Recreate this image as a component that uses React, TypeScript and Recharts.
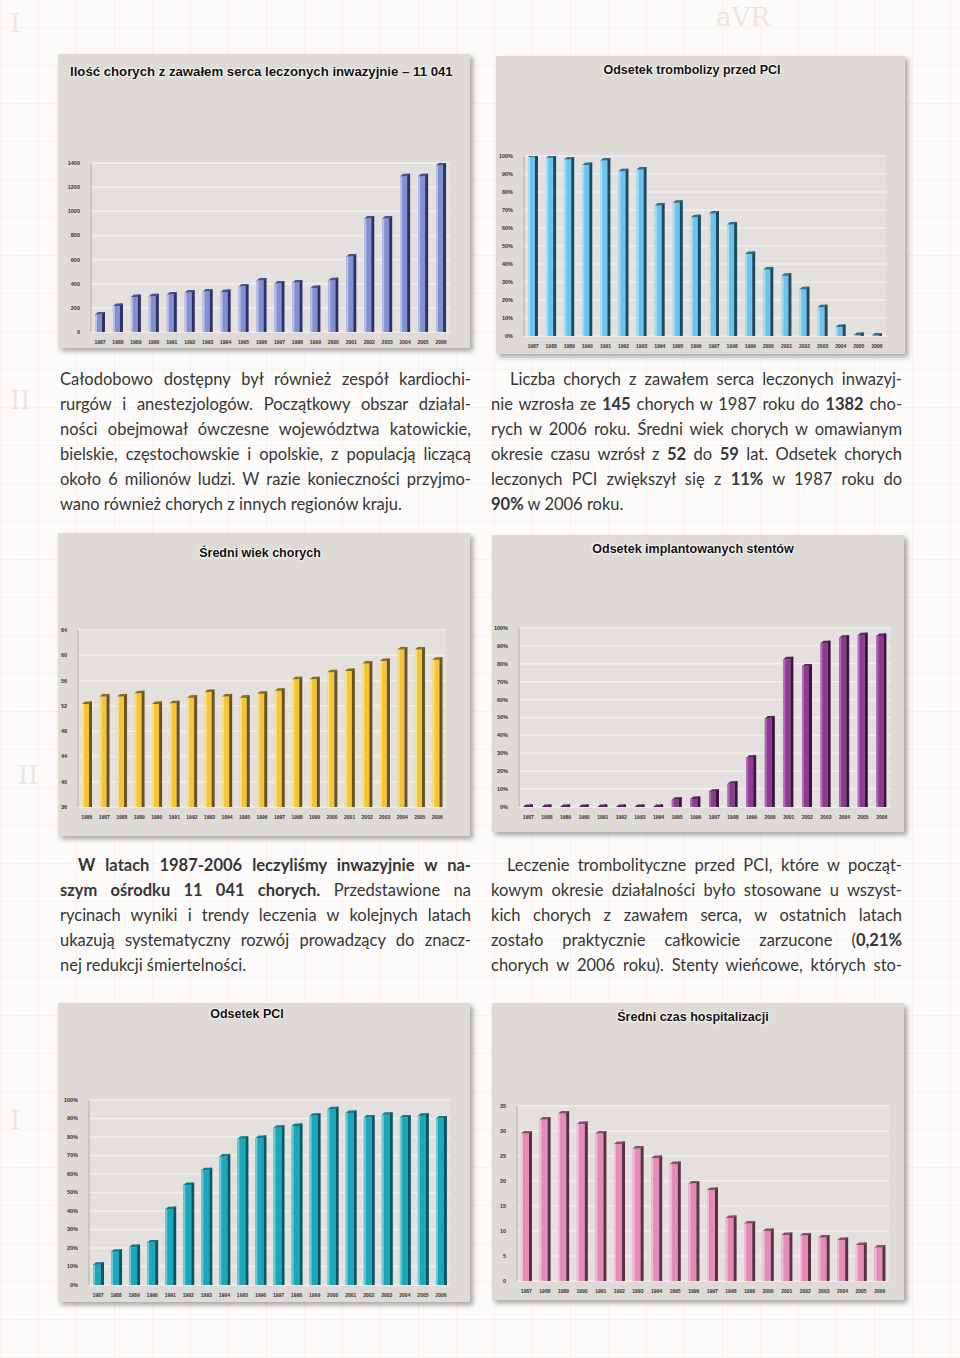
import React from "react";
import { BarChart, Bar, XAxis, YAxis, CartesianGrid } from "recharts";

const years = [
  "1987", "1988", "1989", "1990", "1991", "1992", "1993", "1994", "1995", "1996",
  "1997", "1998", "1999", "2000", "2001", "2002", "2003", "2004", "2005", "2006",
];
const ageYears = ["1986", ...years];

const patients = [145, 215, 290, 296, 310, 327, 335, 332, 376, 426, 401, 410, 365, 429, 626, 940, 940, 1290, 1290, 1382];
const thrombolysis = [99.5, 99, 98, 95, 97.5, 91.5, 92.5, 72.5, 74, 66, 68, 62, 45.5, 37, 33.5, 26, 16, 5, 0.6, 0.21];
const meanAge = [52.3, 53.5, 53.5, 54, 52.3, 52.4, 53.3, 54.2, 53.5, 53.3, 53.9, 54.4, 56.2, 56.2, 57.3, 57.5, 58.7, 59.1, 60.9, 60.9, 59.3];
const stents = [0, 0, 0, 0, 0, 0, 0, 0, 4, 4.5, 8.5, 13, 27.5, 49.5, 82.5, 78.5, 91.5, 94.5, 96, 95.5];
const pciRate = [11, 18, 20.5, 23, 41, 54, 62, 69.5, 79, 79.5, 85, 86, 91.5, 95, 93, 90.5, 92, 90.5, 91.5, 90];
const hospitalDays = [29.5, 32.3, 33.5, 31.4, 29.5, 27.4, 26.5, 24.6, 23.4, 19.5, 18.2, 12.6, 11.5, 10, 9.2, 9.1, 8.7, 8.2, 7.2, 6.7];

const countTicks = [0, 200, 400, 600, 800, 1000, 1200, 1400];
const pctTicks = [0, 10, 20, 30, 40, 50, 60, 70, 80, 90, 100];
const ageTicks = [36, 40, 44, 48, 52, 56, 60, 64];
const dayTicks = [0, 5, 10, 15, 20, 25, 30, 35];

const rows = (labels: string[], values: number[]) =>
  labels.map((year, i) => ({ year, value: values[i] }));

type Palette = { front: string; light: string; side: string; top: string };

function Bar3D(props: any) {
  const { x, y, width, height, c } = props;
  if (x == null || y == null) return null;
  const side = Math.max(2, Math.round(width * 0.3));
  const front = width - side;
  const cap = 2.5;
  const h = Math.max(0, height);
  return (
    <g>
      <rect x={x} y={y} width={front} height={h} fill={c.front} />
      <rect x={x} y={y} width={2} height={h} fill={c.light} />
      <rect x={x + front} y={y - cap} width={side} height={h + cap} fill={c.side} />
      <polygon
        points={`${x},${y} ${x + front},${y} ${x + width},${y - cap} ${x + side},${y - cap}`}
        fill={c.top}
      />
    </g>
  );
}

type Box = { x: number; y: number; w: number; h: number };
type Plot = { x0: number; x1: number; y0: number; y1: number };

function ChartPanel(p: {
  panel: Box;
  plot: Plot;
  title: string;
  titleX: number;
  titleY: number;
  titleSize?: number;
  center?: boolean;
  data: { year: string; value: number }[];
  domain: [number, number];
  ticks: number[];
  fmt: (v: number) => string;
  colors: Palette;
  barSize: number;
}) {
  const { panel, plot } = p;
  const axisH = 12;
  const margin = {
    top: plot.y0 - panel.y,
    right: panel.x + panel.w - plot.x1,
    bottom: panel.y + panel.h - plot.y1 - axisH,
    left: 0,
  };
  return (
    <div
      style={{
        position: "absolute",
        left: panel.x,
        top: panel.y,
        width: panel.w,
        height: panel.h,
        background: "#dedad6",
        boxShadow: "3px 3px 5px rgba(0,0,0,0.35)",
      }}
    >
      <div
        style={{
          position: "absolute",
          left: p.titleX - panel.x,
          top: p.titleY - panel.y - 8,
          transform: p.center ? "translateX(-50%)" : undefined,
          whiteSpace: "nowrap",
          font: `bold ${p.titleSize ?? 12.5}px 'Liberation Sans', Arial, sans-serif`,
          color: "#111",
          textShadow: "0 0 2px #fff, 0 0 2px #fff, 0 0 3px #fff",
        }}
      >
        {p.title}
      </div>
      <BarChart width={panel.w} height={panel.h} data={p.data} margin={margin}>
        <CartesianGrid vertical={false} stroke="#f1efed" strokeWidth={1.5} fill="#e3e0dd" />
        <XAxis
          dataKey="year"
          height={axisH}
          interval={0}
          tickLine={false}
          axisLine={false}
          tick={{ fontSize: 5, fontWeight: 700, fill: "#333", fontFamily: "Liberation Sans" }}
        />
        <YAxis
          width={plot.x0 - panel.x}
          domain={p.domain}
          ticks={p.ticks}
          interval={0}
          allowDataOverflow
          tickFormatter={p.fmt}
          tickLine={false}
          tickMargin={5}
          axisLine={{ stroke: "#b3afab" }}
          tick={{ fontSize: 5.5, fontWeight: 700, fill: "#333", fontFamily: "Liberation Sans" }}
        />
        <Bar
          dataKey="value"
          barSize={p.barSize}
          isAnimationActive={false}
          shape={(s: any) => <Bar3D {...s} c={p.colors} />}
        />
      </BarChart>
    </div>
  );
}

const textStyle: React.CSSProperties = {
  position: "absolute",
  width: 411,
  font: "16.5px Lato, 'Open Sans', sans-serif",
  color: "#363636",
  lineHeight: "25px",
};

function Para({ x, y, lines, indent, lastJustify }: { x: number; y: number; lines: React.ReactNode[]; indent: number; lastJustify?: boolean }) {
  return (
    <div style={{ ...textStyle, left: x, top: y }}>
      {lines.map((ln, i) => {
        const last = i === lines.length - 1 && !lastJustify;
        return (
          <div
            key={i}
            style={{
              height: 25,
              paddingLeft: i === 0 ? indent : 0,
              textAlign: last ? "left" : "justify",
              textAlignLast: last ? "left" : "justify",
            }}
          >
            {ln}
          </div>
        );
      })}
    </div>
  );
}

const deco: React.CSSProperties = {
  position: "absolute",
  font: "26px 'DejaVu Serif', serif",
  color: "#ebe5df",
};

export default function App() {
  const num = (v: number) => String(v);
  const pct = (v: number) => `${v}%`;
  return (
    <div
      style={{
        position: "absolute",
        left: 0,
        top: 0,
        width: 960,
        height: 1358,
        overflow: "hidden",
        background:
          "repeating-linear-gradient(90deg, rgba(225,205,195,0.18) 0 1px, transparent 1px 38px), repeating-linear-gradient(0deg, rgba(225,205,195,0.18) 0 1px, transparent 1px 38px), #fcfbfa",
      }}
    >
      <div style={{ ...deco, left: 10, top: 8 }}>I</div>
      <div style={{ ...deco, left: 716, top: 2 }}>aVR</div>
      <div style={{ ...deco, left: 10, top: 385 }}>II</div>
      <div style={{ ...deco, left: 18, top: 760 }}>II</div>
      <div style={{ ...deco, left: 10, top: 1105 }}>I</div>

      <ChartPanel
        panel={{ x: 58, y: 54, w: 412, h: 294 }}
        plot={{ x0: 91, x1: 450, y0: 163, y1: 332 }}
        title="Ilość chorych z zawałem serca leczonych inwazyjnie – 11 041"
        titleX={70}
        titleY={72}
        titleSize={13.2}
        data={rows(years, patients)}
        domain={[0, 1400]}
        ticks={countTicks}
        fmt={num}
        colors={{ front: "#8290d2", light: "#b6c0ee", side: "#2c3166", top: "#4a5296" }}
        barSize={10}
      />
      <ChartPanel
        panel={{ x: 496, y: 56, w: 409, h: 298 }}
        plot={{ x0: 524, x1: 886, y0: 156, y1: 336 }}
        title="Odsetek trombolizy przed PCI"
        titleX={692}
        titleY={71}
        center
        data={rows(years, thrombolysis)}
        domain={[0, 100]}
        ticks={pctTicks}
        fmt={pct}
        colors={{ front: "#6cc3ec", light: "#a9def7", side: "#1d4a63", top: "#2f6f8f" }}
        barSize={10}
      />

      <Para
        x={60}
        y={367}
        indent={0}
        lines={[
          "Całodobowo dostępny był również zespół kardiochi-",
          "rurgów i anestezjologów. Początkowy obszar działal-",
          "ności obejmował ówczesne województwa katowickie,",
          "bielskie, częstochowskie i opolskie, z populacją liczącą",
          "około 6 milionów ludzi. W razie konieczności przyjmo-",
          "wano również chorych z innych regionów kraju.",
        ]}
      />
      <Para
        x={491}
        y={367}
        indent={19}
        lines={[
          "Liczba chorych z zawałem serca leczonych inwazyj-",
          <>nie wzrosła ze <b>145</b> chorych w 1987 roku do <b>1382</b> cho-</>,
          "rych w 2006 roku. Średni wiek chorych w omawianym",
          <>okresie czasu wzrósł z <b>52</b> do <b>59</b> lat. Odsetek chorych</>,
          <>leczonych PCI zwiększył się z <b>11%</b> w 1987 roku do</>,
          <><b>90%</b> w 2006 roku.</>,
        ]}
      />

      <ChartPanel
        panel={{ x: 58, y: 533, w: 412, h: 303 }}
        plot={{ x0: 78, x1: 446, y0: 630, y1: 807 }}
        title="Średni wiek chorych"
        titleX={260}
        titleY={554}
        center
        data={rows(ageYears, meanAge)}
        domain={[36, 64]}
        ticks={ageTicks}
        fmt={num}
        colors={{ front: "#f4c537", light: "#fbe08a", side: "#6a5320", top: "#8a6c28" }}
        barSize={10}
      />
      <ChartPanel
        panel={{ x: 492, y: 535, w: 412, h: 297 }}
        plot={{ x0: 519, x1: 891, y0: 628, y1: 807 }}
        title="Odsetek implantowanych stentów"
        titleX={693}
        titleY={550}
        center
        data={rows(years, stents)}
        domain={[0, 100]}
        ticks={pctTicks}
        fmt={pct}
        colors={{ front: "#8b3a8f", light: "#b06ab3", side: "#3b1240", top: "#5e2362" }}
        barSize={10}
      />

      <Para
        x={60}
        y={853}
        indent={18}
        lines={[
          <b>W latach 1987-2006 leczyliśmy inwazyjnie w na-</b>,
          <><b>szym ośrodku 11 041 chorych.</b> Przedstawione na</>,
          "rycinach wyniki i trendy leczenia w kolejnych latach",
          "ukazują systematyczny rozwój prowadzący do znacz-",
          "nej redukcji śmiertelności.",
        ]}
      />
      <Para
        x={491}
        y={853}
        indent={16}
        lastJustify
        lines={[
          "Leczenie trombolityczne przed PCI, które w począt-",
          "kowym okresie działalności było stosowane u wszyst-",
          "kich chorych z zawałem serca, w ostatnich latach",
          <>zostało praktycznie całkowicie zarzucone (<b>0,21%</b></>,
          "chorych w 2006 roku). Stenty wieńcowe, których sto-",
        ]}
      />

      <ChartPanel
        panel={{ x: 58, y: 1003, w: 412, h: 299 }}
        plot={{ x0: 89, x1: 450, y0: 1100, y1: 1285 }}
        title="Odsetek PCI"
        titleX={247}
        titleY={1015}
        center
        data={rows(years, pciRate)}
        domain={[0, 100]}
        ticks={pctTicks}
        fmt={pct}
        colors={{ front: "#1ea6ba", light: "#6cccd9", side: "#0d5561", top: "#137a88" }}
        barSize={11}
      />
      <ChartPanel
        panel={{ x: 492, y: 1003, w: 412, h: 297 }}
        plot={{ x0: 517, x1: 889, y0: 1106, y1: 1281 }}
        title="Średni czas hospitalizacji"
        titleX={693}
        titleY={1018}
        center
        data={rows(years, hospitalDays)}
        domain={[0, 35]}
        ticks={dayTicks}
        fmt={num}
        colors={{ front: "#e48cb5", light: "#f2bcd6", side: "#5b3045", top: "#8e4d6c" }}
        barSize={11}
      />
    </div>
  );
}
